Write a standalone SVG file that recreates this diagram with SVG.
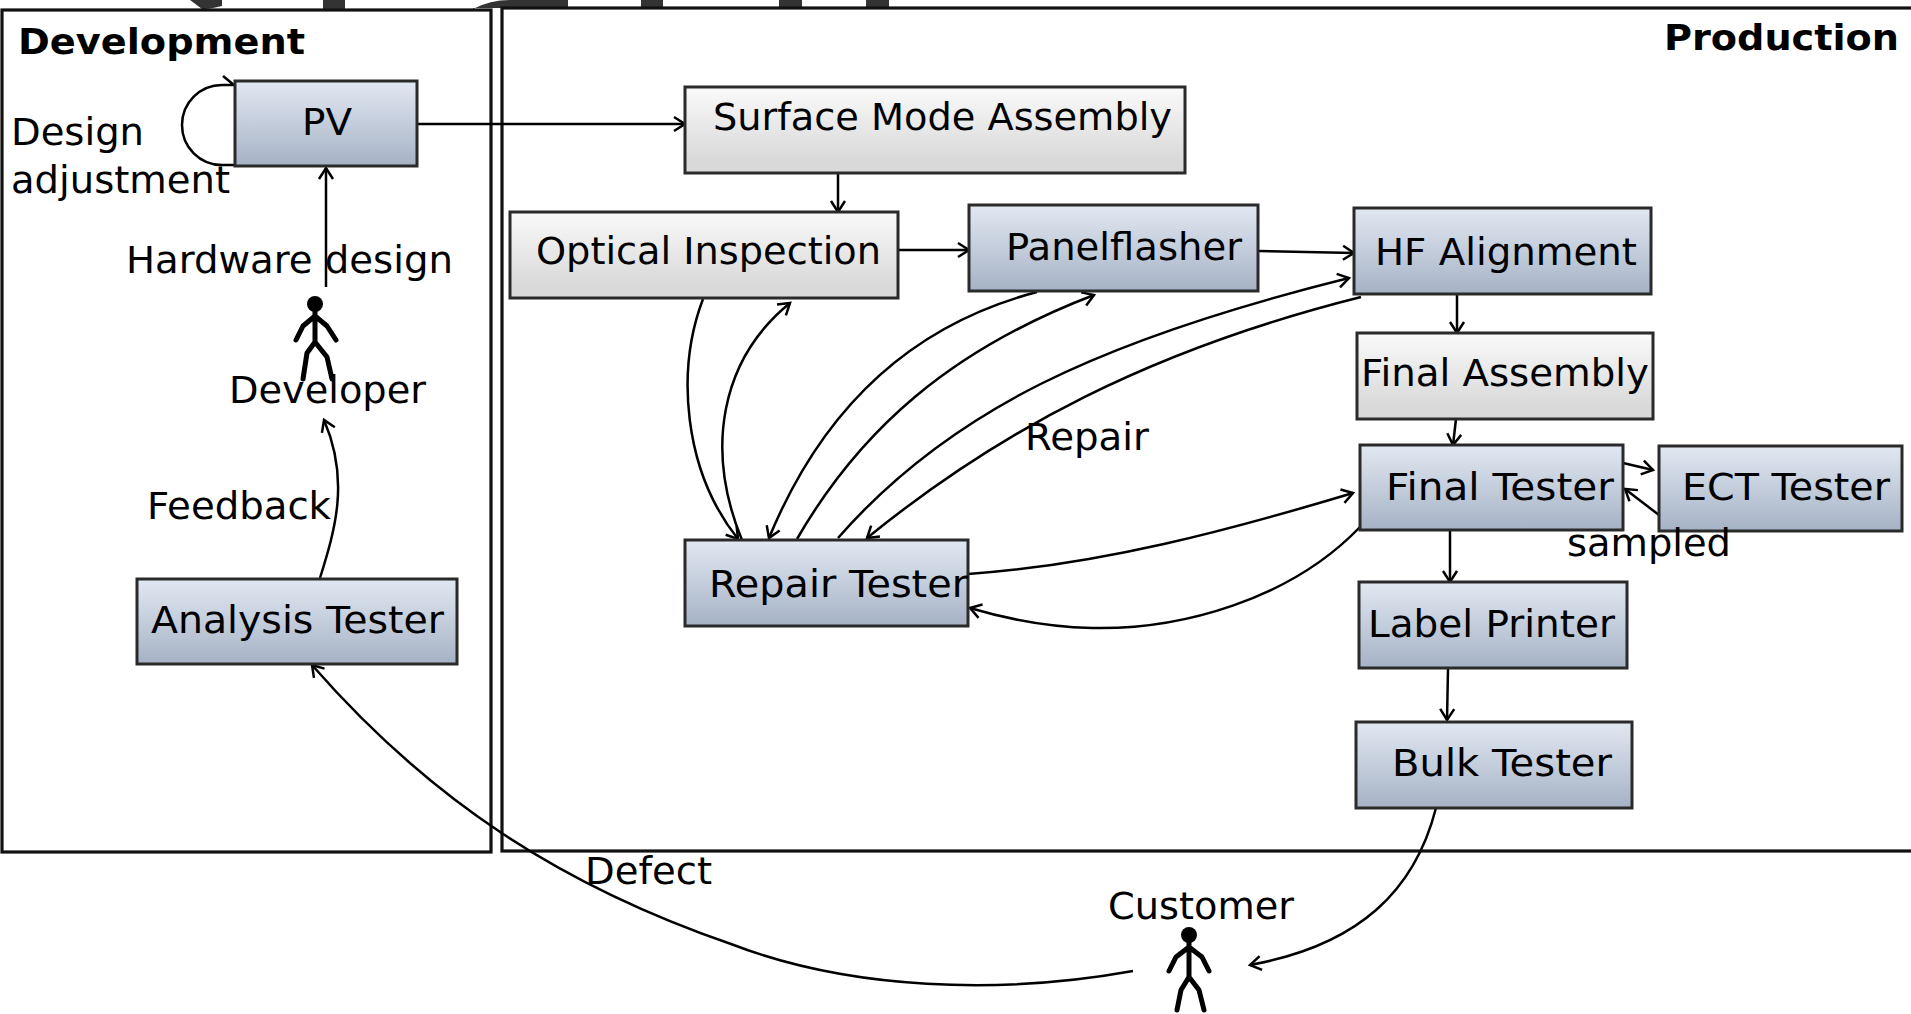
<svg xmlns="http://www.w3.org/2000/svg" width="1911" height="1014" viewBox="0 0 1911 1014">
<style>
text{font-family:"DejaVu Sans","Liberation Sans",sans-serif;font-size:36.5px;fill:#000}
.b{font-weight:bold;font-size:35.5px}
.frame{fill:none;stroke:#111;stroke-width:3.2}
.blue{fill:url(#gb);stroke:#2a2a2a;stroke-width:3}
.gray{fill:url(#gg);stroke:#2a2a2a;stroke-width:3}
.c{fill:none;stroke:#000;stroke-width:2.5;marker-end:url(#a)}
.n{fill:none;stroke:#000;stroke-width:2.5}
.s{fill:none;stroke:#000;stroke-width:5;stroke-linecap:round;stroke-linejoin:round}
.m{fill:#333}
</style>
<defs>
<linearGradient id="gb" x1="0" y1="0" x2="0" y2="1"><stop offset="0" stop-color="#e2e8f2"/><stop offset="1" stop-color="#a5b2c5"/></linearGradient>
<linearGradient id="gg" x1="0" y1="0" x2="0" y2="1"><stop offset="0" stop-color="#fafafa"/><stop offset="0.85" stop-color="#d9d9d9"/></linearGradient>
<marker id="a" markerUnits="userSpaceOnUse" markerWidth="16" markerHeight="18" refX="13" refY="9" orient="auto"><path d="M2 2 L13 9 L2 16" fill="none" stroke="#000" stroke-width="2.5"/></marker>
</defs>
<rect width="1911" height="1014" fill="#fff"/>
<g id="clipped-marks">
<path class="m" d="M190 0 H222 L222 6 Q210 9 205 9 H202 Z"/>
<rect class="m" x="323" y="0" width="22" height="10"/>
<path class="m" d="M473 9 Q490 0 510 0 H568 V8 H473 Z"/>
<rect class="m" x="641" y="0" width="22" height="8"/>
<rect class="m" x="779" y="0" width="23" height="8"/>
<rect class="m" x="866" y="0" width="23" height="8"/>
</g>
<g id="frames">
<g id="development"><rect class="frame" x="2" y="10" width="489" height="842"/><text class="b" x="18" y="54" textLength="287" lengthAdjust="spacingAndGlyphs">Development</text></g>
<g id="production"><rect class="frame" x="502" y="8" width="1420" height="843"/><text class="b" x="1664" y="50" textLength="235" lengthAdjust="spacingAndGlyphs">Production</text></g>
</g>
<g id="connectors">
<path class="n" d="M235 165 H222 A40 40 0 0 1 222 85 H234 L223 76"/>
<path class="c" d="M417 124 H685"/>
<path class="c" d="M326 287 V168"/>
<path class="c" d="M838 173 V212"/>
<path class="c" d="M898 250 H969"/>
<path class="c" d="M1258 251 L1354 253"/>
<path class="c" d="M1457 294 V333"/>
<path class="c" d="M1456 419 L1453 445"/>
<path class="c" d="M1623 463 L1653 470"/>
<path class="c" d="M1659 515 L1625 489"/>
<path class="c" d="M1450 530 V582"/>
<path class="c" d="M1448 669 L1447 720"/>
<path class="c" d="M1436 808 C1415 890 1360 945 1250 965"/>
<path class="c" d="M1133 971 C1000 995 850 990 731 944 C560 885 430 800 312 665"/>
<path class="c" d="M320 578 C335 530 350 480 324 420"/>
<path class="c" d="M703 299 C676 370 683 470 738 539"/>
<path class="c" d="M742 540 C705 450 720 360 790 303"/>
<path class="c" d="M1037 292 C930 320 830 390 769 538"/>
<path class="c" d="M797 539 C860 430 950 350 1094 295"/>
<path class="c" d="M838 538 C950 410 1100 340 1349 278"/>
<path class="c" d="M1361 297 C1150 350 1000 430 867 538"/>
<path class="c" d="M968 574 C1100 565 1230 530 1353 493"/>
<path class="c" d="M1360 527 C1290 600 1180 630 1092 628 C1050 627 1010 620 970 608"/>
</g>
<g id="pv"><rect class="blue" x="235" y="81" width="182" height="85"/><text x="302" y="135" textLength="50" lengthAdjust="spacingAndGlyphs">PV</text></g>
<g id="surface-mode-assembly"><rect class="gray" x="685" y="87" width="500" height="86"/><text x="713" y="130" textLength="459" lengthAdjust="spacingAndGlyphs">Surface Mode Assembly</text></g>
<g id="optical-inspection"><rect class="gray" x="510" y="212" width="388" height="86"/><text x="536" y="264" textLength="345" lengthAdjust="spacingAndGlyphs">Optical Inspection</text></g>
<g id="panelflasher"><rect class="blue" x="969" y="205" width="289" height="86"/><text x="1006" y="260" textLength="236" lengthAdjust="spacingAndGlyphs">Panelflasher</text></g>
<g id="hf-alignment"><rect class="blue" x="1354" y="208" width="297" height="86"/><text x="1375" y="265" textLength="262" lengthAdjust="spacingAndGlyphs">HF Alignment</text></g>
<g id="final-assembly"><rect class="gray" x="1357" y="333" width="296" height="86"/><text x="1361" y="386" textLength="288" lengthAdjust="spacingAndGlyphs">Final Assembly</text></g>
<g id="final-tester"><rect class="blue" x="1360" y="445" width="263" height="85"/><text x="1386" y="500" textLength="228" lengthAdjust="spacingAndGlyphs">Final Tester</text></g>
<g id="ect-tester"><rect class="blue" x="1659" y="446" width="243" height="85"/><text x="1682" y="500" textLength="208" lengthAdjust="spacingAndGlyphs">ECT Tester</text></g>
<g id="label-printer"><rect class="blue" x="1359" y="582" width="268" height="86"/><text x="1368" y="637" textLength="247" lengthAdjust="spacingAndGlyphs">Label Printer</text></g>
<g id="bulk-tester"><rect class="blue" x="1356" y="722" width="276" height="86"/><text x="1392" y="776" textLength="220" lengthAdjust="spacingAndGlyphs">Bulk Tester</text></g>
<g id="repair-tester"><rect class="blue" x="685" y="540" width="283" height="86"/><text x="709" y="597" textLength="259" lengthAdjust="spacingAndGlyphs">Repair Tester</text></g>
<g id="analysis-tester"><rect class="blue" x="137" y="579" width="320" height="85"/><text x="151" y="633" textLength="293" lengthAdjust="spacingAndGlyphs">Analysis Tester</text></g>
<g id="developer">
<circle cx="315" cy="304" r="8"/>
<path class="s" d="M315 312 V342 M315 316 L303 326 L296 340 M315 316 L327 326 L336 340 M315 342 L307 353 L303 379 M315 342 L327 357 L332 379"/>
<text x="229" y="403" textLength="197" lengthAdjust="spacingAndGlyphs">Developer</text>
</g>
<g id="customer">
<circle cx="1189" cy="935" r="8"/>
<path class="s" d="M1189 943 V977 M1189 947 L1176 957 L1169 971 M1189 947 L1202 957 L1209 971 M1189 977 L1181 990 L1177 1010 M1189 977 L1199 990 L1204 1010"/>
<text x="1108" y="919" textLength="186" lengthAdjust="spacingAndGlyphs">Customer</text>
</g>
<g id="labels">
<text x="11" y="145" textLength="133" lengthAdjust="spacingAndGlyphs">Design</text>
<text x="11" y="193" textLength="219" lengthAdjust="spacingAndGlyphs">adjustment</text>
<text x="126" y="273" textLength="327" lengthAdjust="spacingAndGlyphs">Hardware design</text>
<text x="147" y="519" textLength="184" lengthAdjust="spacingAndGlyphs">Feedback</text>
<text x="1025" y="450" textLength="124" lengthAdjust="spacingAndGlyphs">Repair</text>
<text x="1567" y="556" textLength="164" lengthAdjust="spacingAndGlyphs">sampled</text>
<text x="585" y="884" textLength="127" lengthAdjust="spacingAndGlyphs">Defect</text>
</g>
</svg>
